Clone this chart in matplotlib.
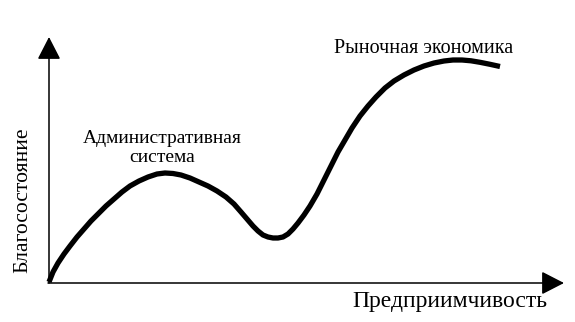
import matplotlib
matplotlib.use("Agg")
import matplotlib.pyplot as plt

# curve (x = enterprise, y = welfare, pixel-like units)
curve_x = [49, 53, 58, 64, 70, 77, 84, 91, 98, 106, 114, 122, 130, 139, 148, 157, 165, 173, 181, 190,
           199, 208, 217, 226, 234, 241, 247, 253, 258, 263, 268, 273, 278, 283, 288, 293, 298, 304,
           310, 317, 324, 331, 338, 345, 352, 360, 368, 376, 385, 394, 404, 414, 424, 434, 444, 453,
           462, 471, 480, 490, 500]
curve_y = [282, 272, 263, 254, 246, 237, 229, 221, 214, 206, 199, 192, 186, 181, 177, 174, 173, 173.5, 175, 178,
           182, 186, 191, 197, 204, 212, 219, 226, 231, 235, 237, 238, 238, 237, 234, 229, 223, 215,
           206, 194, 180, 166, 152, 140, 128, 116, 106, 97, 88, 81, 75, 70, 66, 63, 61, 60,
           60, 60.8, 62.3, 64.3, 66.5]

y_label = "Благосостояние"
x_label = "Предприимчивость"
labels = ["Административная\nсистема", "Рыночная экономика"]
label_pos = [(162, 148), (424, 48)]

plt.rcParams["font.family"] = ["Liberation Serif", "DejaVu Serif"]

fig = plt.figure(figsize=(5.75, 3.22), dpi=100)
ax = fig.add_axes([0, 0, 1, 1])
ax.set_xlim(0, 575)
ax.set_ylim(322, 0)
ax.axis("off")

arrow = dict(arrowstyle="-|>,head_length=1.4,head_width=0.72", mutation_scale=10,
             lw=1.1, color="black", shrinkA=0, shrinkB=0)
ax.annotate("", xy=(49, 37), xytext=(49, 283), arrowprops=arrow)
ax.annotate("", xy=(564, 283), xytext=(48, 283), arrowprops=arrow)

ax.plot(curve_x, curve_y, color="black", lw=3.8, solid_capstyle="butt", solid_joinstyle="round")

ax.text(23, 200, y_label, rotation=90, ha="center", va="center", fontsize=15.6)
ax.text(450, 301, x_label, ha="center", va="center", fontsize=17)
ax.text(*label_pos[0], labels[0], ha="center", va="center", fontsize=14, linespacing=1.15)
ax.text(*label_pos[1], labels[1], ha="center", va="center", fontsize=14.5)

fig.savefig("out.png", dpi=100, facecolor="white")
